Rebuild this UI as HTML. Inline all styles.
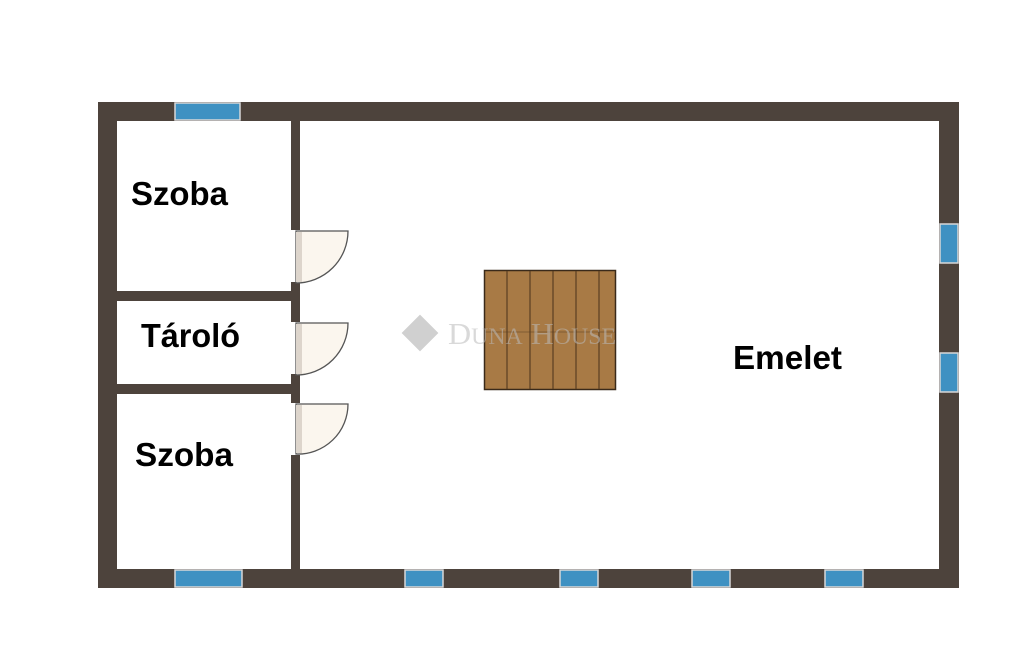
<!DOCTYPE html>
<html><head><style>html,body{margin:0;padding:0;background:#fff;}svg{display:block}</style></head>
<body>
<svg width="1024" height="670" viewBox="0 0 1024 670" xmlns="http://www.w3.org/2000/svg">
<rect width="1024" height="670" fill="#fff"/>
<g fill="#4d433c">
<rect x="98" y="102" width="861" height="19"/>
<rect x="98" y="569" width="861" height="19"/>
<rect x="98" y="102" width="19" height="486"/>
<rect x="939" y="102" width="20" height="486"/>
<rect x="291" y="121" width="9" height="448"/>
<rect x="117" y="291" width="176" height="10"/>
<rect x="117" y="384" width="176" height="10"/>
</g>
<g fill="#fff">
<rect x="291" y="230" width="9" height="52"/>
<rect x="291" y="322" width="9" height="52"/>
<rect x="291" y="403" width="9" height="52"/>
</g>
<g fill="#3f91c2" stroke="#d8d8d8" stroke-width="1.5">
<rect x="175" y="103" width="65" height="17"/>
<rect x="175" y="570" width="67" height="17"/>
<rect x="405" y="570" width="38" height="17"/>
<rect x="560" y="570" width="38" height="17"/>
<rect x="692" y="570" width="38" height="17"/>
<rect x="825" y="570" width="38" height="17"/>
<rect x="940" y="224" width="18" height="39"/>
<rect x="940" y="353" width="18" height="39"/>
</g>
<g fill="#fbf6ee" stroke="#555" stroke-width="1.3">
<path d="M296,231 L348,231 A52,52 0 0 1 296,283 Z"/>
<path d="M296,323 L348,323 A52,52 0 0 1 296,375 Z"/>
<path d="M296,404 L348,404 A50,50 0 0 1 296,454 Z"/>
</g>
<g fill="#ddd5cc"><rect x="296" y="232" width="6" height="50"/><rect x="296" y="324" width="6" height="50"/><rect x="296" y="405" width="6" height="48"/></g>
<rect x="484.5" y="270.5" width="131" height="119" fill="#a87a45" stroke="#3a2a1a" stroke-width="1.5"/>
<g stroke="#5a3e22" stroke-width="1.2">
<line x1="507" y1="271" x2="507" y2="389"/><line x1="530" y1="271" x2="530" y2="389"/>
<line x1="553" y1="271" x2="553" y2="389"/><line x1="576" y1="271" x2="576" y2="389"/>
<line x1="599" y1="271" x2="599" y2="389"/><line x1="485" y1="332" x2="615" y2="332" stroke-width="0.6"/>
</g>
<g opacity="0.55">
<rect x="407" y="320" width="26" height="26" transform="rotate(45 420 333)" fill="#aaa"/>
<text x="448" y="344" font-family="Liberation Serif, serif" font-size="31" fill="#bbb" textLength="168" lengthAdjust="spacingAndGlyphs">D<tspan font-size="23">UNA</tspan> H<tspan font-size="23">OUSE</tspan></text>
</g>
<g font-family="Liberation Sans, sans-serif" font-weight="bold" font-size="33" fill="#000">
<text x="131" y="205" textLength="97" lengthAdjust="spacingAndGlyphs">Szoba</text>
<text x="141" y="347" textLength="99" lengthAdjust="spacingAndGlyphs">Tároló</text>
<text x="135" y="466" textLength="98" lengthAdjust="spacingAndGlyphs">Szoba</text>
<text x="733" y="369" textLength="109" lengthAdjust="spacingAndGlyphs">Emelet</text>
</g>
</svg>
</body></html>
